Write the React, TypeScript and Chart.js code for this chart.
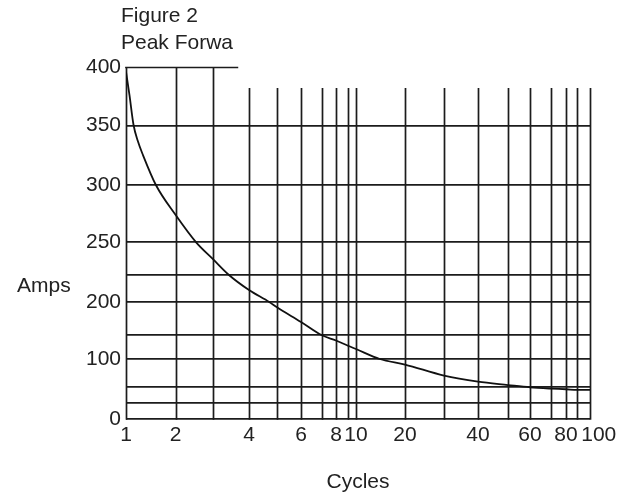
import React, { useEffect, useRef } from 'react';
import { Chart, LinearScale, registerables } from 'chart.js';

Chart.register(...registerables);

// ---- data ----
const X_GRID = [1, 2, 3, 4, 5, 6, 7, 8, 9, 10, 20, 30, 40, 50, 60, 70, 80, 90, 100];
const X_LABELED = [1, 2, 4, 6, 8, 10, 20, 40, 60, 80, 100];
const Y_GRID = [0, 25, 50, 100, 150, 200, 225, 250, 300, 350, 400];
const Y_LABELED = [0, 100, 200, 250, 300, 350, 400];

const CYCLES = [1, 1.05, 1.11, 1.18, 1.27, 1.52, 2, 2.5, 3, 3.4, 4, 4.7, 5, 6, 7, 8, 9, 10, 14, 20, 30, 40, 50, 60, 70, 80, 90, 100];
const AMPS = [396, 376, 351, 337, 325, 300, 274, 250, 237, 225, 211, 200, 192, 170, 150, 139, 128, 121, 100, 90, 70, 59, 53, 49, 47, 46, 45, 45];

// ---- axis geometry of the printed graph paper (fraction of plot size at each grid value) ----
const X_GRID_FRAC = [0, 0.1067, 0.1875, 0.2651, 0.3254, 0.3772, 0.4224, 0.4526, 0.4784, 0.4957, 0.6013, 0.6853, 0.7586, 0.8233, 0.8707, 0.9159, 0.9483, 0.972, 1];
const Y_GRID_FRAC = [0, 0.0463, 0.0918, 0.1705, 0.2378, 0.3324, 0.4099, 0.5019, 0.6648, 0.8333, 1];

const TALL_X_MAX = 3; // vertical lines up to this value reach the top line
const SHORT_LINE_TOP = 382; // other vertical lines stop here
const TOP_LINE_END = 3.67; // top (400) line ends here

const GRID_COLOR = '#1c1c1c';
const GRID_W = 1.7;
const FONT_FAMILY = '"Liberation Sans", Arial, sans-serif';
const TEXT_COLOR = '#222';

function makeWarpScale(id: string, values: number[], fracs: number[], logInterp: boolean) {
  const tf = (v: number) => (logInterp ? Math.log10(v) : v);
  const itf = (t: number) => (logInterp ? Math.pow(10, t) : t);
  const tv = values.map(tf);
  const n = tv.length;
  const toFrac = (value: number) => {
    const t = tf(value);
    let i = 0;
    if (t <= tv[0]) i = 0;
    else if (t >= tv[n - 1]) i = n - 2;
    else {
      while (i < n - 2 && t > tv[i + 1]) i++;
    }
    return fracs[i] + ((t - tv[i]) / (tv[i + 1] - tv[i])) * (fracs[i + 1] - fracs[i]);
  };
  const fromFrac = (f: number) => {
    let i = 0;
    if (f <= fracs[0]) i = 0;
    else if (f >= fracs[n - 1]) i = n - 2;
    else {
      while (i < n - 2 && f > fracs[i + 1]) i++;
    }
    const t = tv[i] + ((f - fracs[i]) / (fracs[i + 1] - fracs[i])) * (tv[i + 1] - tv[i]);
    return itf(t);
  };
  class WarpScale extends LinearScale {
    static id = id;
    buildTicks() {
      (this as any).start = (this as any).min;
      (this as any).end = (this as any).max;
      return values.map((value) => ({ value }));
    }
    getPixelForValue(value: number) {
      if (value === null || value === undefined || isNaN(value)) return NaN;
      return this.getPixelForDecimal(toFrac(value));
    }
    getValueForPixel(pixel: number) {
      return fromFrac(this.getDecimalForPixel(pixel));
    }
  }
  return WarpScale;
}

const WarpX = makeWarpScale('warpX', X_GRID, X_GRID_FRAC, true);
const WarpY = makeWarpScale('warpY', Y_GRID, Y_GRID_FRAC, false);
Chart.register(WarpX as any, WarpY as any);

const paperPlugin = {
  id: 'paperGrid',
  beforeDatasetsDraw(chart: any) {
    const { ctx } = chart;
    const xs = chart.scales.x;
    const ys = chart.scales.y;
    ctx.save();
    ctx.strokeStyle = GRID_COLOR;
    ctx.lineWidth = GRID_W;
    const bottom = ys.getPixelForValue(0) + GRID_W / 2;
    X_GRID.forEach((v) => {
      const px = Math.round(xs.getPixelForValue(v)) + 0.5;
      const top = ys.getPixelForValue(v <= TALL_X_MAX ? 400 : SHORT_LINE_TOP);
      ctx.beginPath();
      ctx.moveTo(px, bottom);
      ctx.lineTo(px, top);
      ctx.stroke();
    });
    const yTop = Math.round(ys.getPixelForValue(400)) + 0.5;
    ctx.beginPath();
    ctx.moveTo(xs.getPixelForValue(1) - GRID_W / 2, yTop);
    ctx.lineTo(xs.getPixelForValue(TOP_LINE_END), yTop);
    ctx.stroke();
    ctx.restore();
  },
  afterDraw(chart: any) {
    const { ctx, chartArea } = chart;
    ctx.save();
    ctx.fillStyle = TEXT_COLOR;
    ctx.font = `21px ${FONT_FAMILY}`;
    ctx.textBaseline = 'alphabetic';
    ctx.textAlign = 'left';
    ctx.fillText('Figure 2', chartArea.left - 5, 22);
    ctx.fillText('Peak Forwa', chartArea.left - 5, 49);
    ctx.fillText('Amps', 17, 291.5);
    ctx.textAlign = 'center';
    ctx.fillText('Cycles', (chartArea.left + chartArea.right) / 2, 488);
    ctx.restore();
  },
};

export default function App() {
  const canvasRef = useRef<HTMLCanvasElement | null>(null);

  useEffect(() => {
    if (!canvasRef.current) return;
    const chart = new Chart(canvasRef.current, {
      type: 'line',
      data: {
        datasets: [
          {
            data: CYCLES.map((x, i) => ({ x, y: AMPS[i] })),
            borderColor: '#111',
            borderWidth: 1.8,
            pointRadius: 0,
            fill: false,
            cubicInterpolationMode: 'monotone',
          },
        ],
      },
      options: {
        animation: false,
        responsive: true,
        maintainAspectRatio: false,
        layout: { padding: { left: 0, right: 43, top: 67, bottom: 0 } },
        plugins: {
          legend: { display: false },
          tooltip: { enabled: false },
          title: { display: false },
        },
        events: [],
        scales: {
          x: {
            type: 'warpX' as any,
            min: 1,
            max: 100,
            grid: { display: false, drawTicks: false },
            border: { display: false },
            ticks: {
              autoSkip: false,
              maxRotation: 0,
              padding: 4,
              color: TEXT_COLOR,
              font: { family: FONT_FAMILY, size: 21 },
              callback: (v: any) => {
                const n = Number(v);
                if (!X_LABELED.includes(n)) return '';
                // the last label sits a little right of its line in the reference
                return n === 100 ? '   ' + String(n) : String(n);
              },
            },
            afterFit: (s: any) => {
              s.height = 79;
            },
          },
          y: {
            type: 'warpY' as any,
            min: 0,
            max: 400,
            grid: {
              drawTicks: false,
              lineWidth: GRID_W,
              color: (c: any) => (c.tick && c.tick.value === 400 ? 'rgba(0,0,0,0)' : GRID_COLOR),
            },
            border: { display: false },
            ticks: {
              autoSkip: false,
              padding: 5,
              color: TEXT_COLOR,
              font: { family: FONT_FAMILY, size: 21 },
              callback: (v: any) => (Y_LABELED.includes(Number(v)) ? String(v) : ''),
            },
            afterFit: (s: any) => {
              s.width = 126;
            },
          },
        },
      } as any,
      plugins: [paperPlugin],
    });
    return () => chart.destroy();
  }, []);

  return (
    <div style={{ position: 'fixed', left: 0, top: 0, width: 633, height: 498, background: '#fff' }}>
      <canvas ref={canvasRef} />
    </div>
  );
}
